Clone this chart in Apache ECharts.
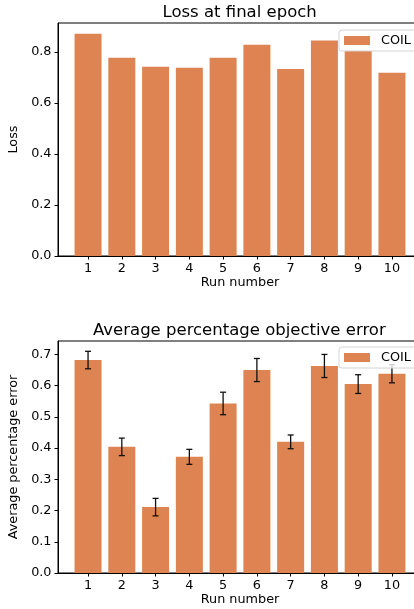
<!DOCTYPE html>
<html>
<head>
<meta charset="utf-8">
<script src="https://cdn.jsdelivr.net/npm/echarts@6/dist/echarts.min.js"></script>
<style>
  html, body { margin: 0; padding: 0; background: #fff; }
  #main { width: 414px; height: 609px; }
</style>
</head>
<body>
<div id="main"></div>
<script>
// data
var runs = [1, 2, 3, 4, 5, 6, 7, 8, 9, 10];
var finalLoss = [0.872, 0.778, 0.742, 0.738, 0.778, 0.829, 0.734, 0.845, 0.805, 0.719];
var avgError = [0.682, 0.404, 0.211, 0.372, 0.543, 0.650, 0.420, 0.663, 0.605, 0.638];
var avgErrorStd = [0.028, 0.028, 0.028, 0.024, 0.036, 0.037, 0.022, 0.037, 0.030, 0.029];
var lossTicks = [0, 0.2, 0.4, 0.6, 0.8];
var errorTicks = [0, 0.1, 0.2, 0.3, 0.4, 0.5, 0.6, 0.7];

var FONT = 'DejaVu Sans';
var BAR = '#DD8452';

var myChart = echarts.init(document.getElementById('main'), null, { renderer: 'canvas' });

function xAxisFor(i) {
  return {
    type: 'value',
    gridIndex: i,
    min: 0.11,
    max: 10.89,
    name: 'Run number',
    nameLocation: 'middle',
    nameGap: 19,
    nameTextStyle: { fontFamily: FONT, fontSize: 12.8, color: '#000' },
    axisLine: { show: true, lineStyle: { color: '#000', width: 1 } },
    axisTick: { show: true, length: 3.5, lineStyle: { color: '#000', width: 1 }, customValues: runs },
    axisLabel: { fontFamily: FONT, fontSize: 12.8, color: '#000', margin: 6, customValues: runs },
    splitLine: { show: false }
  };
}

function yAxisFor(i, max, ticks, name) {
  return {
    type: 'value',
    gridIndex: i,
    min: 0,
    max: max,
    name: name,
    nameLocation: 'middle',
    nameGap: 30,
    nameTextStyle: { fontFamily: FONT, fontSize: 12.8, color: '#000' },
    axisLine: { show: true, lineStyle: { color: '#000', width: 1 } },
    axisTick: { show: true, length: 3.5, lineStyle: { color: '#000', width: 1 }, customValues: ticks },
    axisLabel: {
      fontFamily: FONT, fontSize: 12.8, color: '#000', margin: 6.5,
      customValues: ticks,
      formatter: function (v) { return v.toFixed(1); }
    },
    splitLine: { show: false }
  };
}

function legendAt(top) {
  return {
    data: ['COIL'],
    left: 339,
    top: top,
    orient: 'vertical',
    icon: 'rect',
    itemWidth: 26,
    itemHeight: 9,
    padding: [4, 14, 4, 5],
    backgroundColor: 'rgba(255,255,255,0.8)',
    borderColor: '#d4d4d4',
    borderWidth: 1,
    borderRadius: 3,
    textStyle: { fontFamily: FONT, fontSize: 12.8, color: '#000', padding: [0, 0, 0, 6] },
    selectedMode: false
  };
}

// error bars drawn through the axis scales
function renderErrorBar(params, api) {
  var x = api.value(0);
  var top = api.coord([x, api.value(2)]);
  var bot = api.coord([x, api.value(1)]);
  var cap = 3;
  var style = { stroke: '#111', lineWidth: 1.3 };
  return {
    type: 'group',
    children: [
      { type: 'line', shape: { x1: top[0], y1: top[1], x2: bot[0], y2: bot[1] }, style: style },
      { type: 'line', shape: { x1: top[0] - cap, y1: top[1], x2: top[0] + cap, y2: top[1] }, style: style },
      { type: 'line', shape: { x1: bot[0] - cap, y1: bot[1], x2: bot[0] + cap, y2: bot[1] }, style: style }
    ]
  };
}

var option = {
  animation: false,
  backgroundColor: '#fff',
  title: [
    { text: 'Loss at final epoch', left: 162.5, top: 4, padding: 0,
      textStyle: { fontFamily: FONT, fontSize: 16.5, fontWeight: 'normal', color: '#000' } },
    { text: 'Average percentage objective error', left: 93, top: 322, padding: 0,
      textStyle: { fontFamily: FONT, fontSize: 16.5, fontWeight: 'normal', color: '#000' } }
  ],
  legend: [legendAt(30), legendAt(347)],
  // plot area runs past the right edge of the picture, as in the reference
  grid: [
    { left: 58, width: 364, top: 23, height: 233, outerBoundsMode: 'none', show: true, borderColor: '#000', borderWidth: 1, backgroundColor: 'transparent' },
    { left: 58, width: 364, top: 341, height: 232, outerBoundsMode: 'none', show: true, borderColor: '#000', borderWidth: 1, backgroundColor: 'transparent' }
  ],
  xAxis: [xAxisFor(0), xAxisFor(1)],
  yAxis: [
    yAxisFor(0, 0.914, lossTicks, 'Loss'),
    yAxisFor(1, 0.743, errorTicks, 'Average percentage error')
  ],
  series: [
    {
      name: 'COIL',
      type: 'bar',
      xAxisIndex: 0,
      yAxisIndex: 0,
      barWidth: 27,
      itemStyle: { color: BAR },
      data: runs.map(function (r, i) { return [r, finalLoss[i]]; })
    },
    {
      name: 'COIL',
      type: 'bar',
      xAxisIndex: 1,
      yAxisIndex: 1,
      barWidth: 27,
      itemStyle: { color: BAR },
      data: runs.map(function (r, i) { return [r, avgError[i]]; })
    },
    {
      name: 'error',
      type: 'custom',
      xAxisIndex: 1,
      yAxisIndex: 1,
      z: 3,
      renderItem: renderErrorBar,
      encode: { x: 0, y: [1, 2] },
      data: runs.map(function (r, i) {
        return [r, avgError[i] - avgErrorStd[i], avgError[i] + avgErrorStd[i]];
      })
    }
  ]
};

myChart.setOption(option);
</script>
</body>
</html>
